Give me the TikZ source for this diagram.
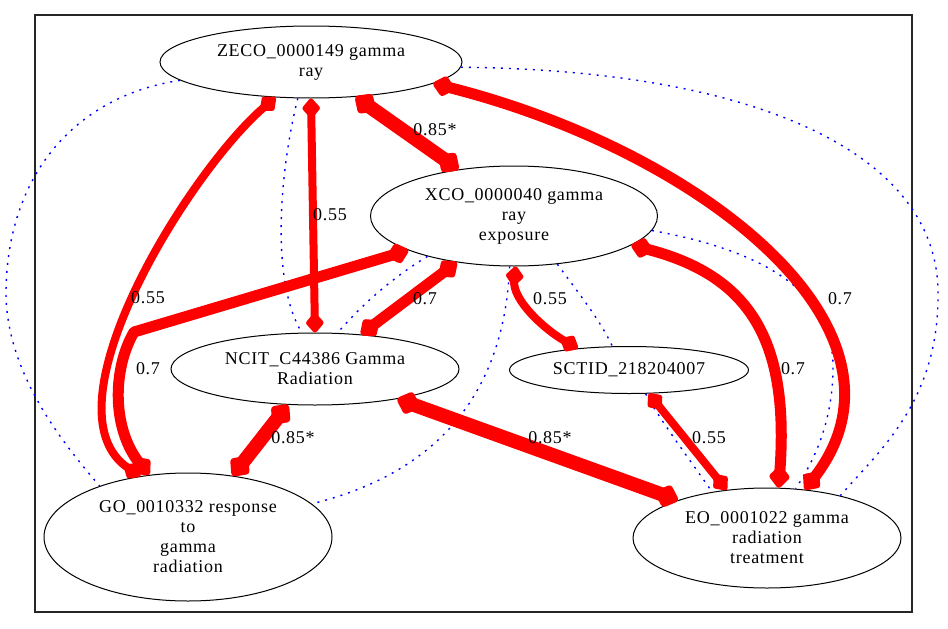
\documentclass[tikz,border=0pt]{standalone}
\usepackage{fontspec}
\setmainfont{Liberation Serif}
\newfontfamily\gvfont[LetterSpace=4]{Liberation Serif}
\usetikzlibrary{shapes.geometric,arrows.meta}
\begin{document}
\begin{tikzpicture}[x=1pt,y=-1pt,
  nd/.style={ellipse, draw=black, line width=1pt, inner sep=0pt, align=center,
    font=\gvfont\fontsize{18}{20}\selectfont},
  lbl/.style={inner sep=0pt, font=\gvfont\fontsize{18}{20}\selectfont},
  dots/.style={draw=blue, line width=1.4pt, dash pattern=on 2pt off 6pt},
  r55/.style={draw=red, line width=8pt, line join=round,
    {Diamond[length=22pt,width=19pt,line width=5pt,round]}-{Diamond[length=22pt,width=19pt,line width=5pt,round]}},
  r70/.style={draw=red, line width=11pt, line join=round,
    {Diamond[length=25pt,width=22pt,line width=6pt,round]}-{Diamond[length=25pt,width=22pt,line width=6pt,round]}},
  r85/.style={draw=red, line width=14pt, line join=round,
    {Diamond[length=27pt,width=25pt,line width=7pt,round]}-{Diamond[length=27pt,width=25pt,line width=7pt,round]}}]
\useasboundingbox (0,0) rectangle (948,629);
\draw[line width=1.2pt, black!85] (35,15) rectangle (912,612);

\node[nd, minimum width=302pt, minimum height=72pt] (zeco) at (311,62) {ZECO\_0000149 gamma\\ray};
\node[nd, minimum width=287pt, minimum height=100pt] (xco) at (514,216) {XCO\_0000040 gamma\\ray\\exposure};
\node[nd, minimum width=288pt, minimum height=72pt] (ncit) at (315,369) {NCIT\_C44386 Gamma\\Radiation};
\node[nd, minimum width=239pt, minimum height=47pt] (sctid) at (629,370) {SCTID\_218204007};
\node[nd, minimum width=288pt, minimum height=128pt] (go) at (188,537) {GO\_0010332 response\\to\\gamma\\radiation};
\node[nd, minimum width=268pt, minimum height=100pt] (eo) at (767,538) {EO\_0001022 gamma\\radiation\\treatment};

% dotted connectors
\draw[dots] (zeco.188) .. controls (80,95) and (8,170) .. (6,290) .. controls (5,370) and (60,440) .. (go.150);
\draw[dots] (zeco.358) .. controls (750,70) and (935,150) .. (938,290) .. controls (940,400) and (880,450) .. (eo.30);
\draw[dots] (zeco.250) .. controls (280,170) and (270,280) .. (ncit.110);
\draw[dots] (xco.205) .. controls (405,270) and (370,295) .. (ncit.58);
\draw[dots] (xco.265) .. controls (505,380) and (450,470) .. (go.15);
\draw[dots] (xco.312) .. controls (580,295) and (600,320) .. (sctid.125);
\draw[dots] (xco.354) .. controls (760,250) and (833,290) .. (833,367) .. controls (833,420) and (815,460) .. (eo.60);
\draw[dots] (sctid.305) .. controls (660,420) and (690,460) .. (eo.140);

% red connectors
\draw[r55] (zeco.225) .. controls (190,170) and (40,410) .. (go.128);
\draw[r55] (zeco.south) -- (ncit.north);
\draw[r85] (zeco.322) -- (xco.140);
\draw[r70] (zeco.350) .. controls (700,150) and (930,330) .. (eo.52);
\draw[r70] (xco.198) -- (134,332) .. controls (112,370) and (112,430) .. (go.122);
\draw[r70] (xco.219) -- (ncit.37);
\draw[r55] (xco.272) .. controls (512,300) and (545,330) .. (sctid.157);
\draw[r70] (xco.346) .. controls (750,275) and (790,340) .. (eo.77);
\draw[r85] (ncit.233) -- (go.54);
\draw[r85] (ncit.340) -- (eo.157);
\draw[r55] (sctid.310) -- (eo.130);

% labels
\node[lbl] (l1) at (435,130) {0.85*};
\node[lbl] (l2) at (330,215) {0.55};
\node[lbl] (l3) at (148,298) {0.55};
\node[lbl] (l4) at (148,369) {0.7};
\node[lbl] (l5) at (425,299) {0.7};
\node[lbl] (l6) at (550,299) {0.55};
\node[lbl] (l7) at (840,299) {0.7};
\node[lbl] (l8) at (793,369) {0.7};
\node[lbl] (l9) at (293,438) {0.85*};
\node[lbl] (l10) at (550,438) {0.85*};
\node[lbl] (l11) at (709,438) {0.55};
\end{tikzpicture}
\end{document}
